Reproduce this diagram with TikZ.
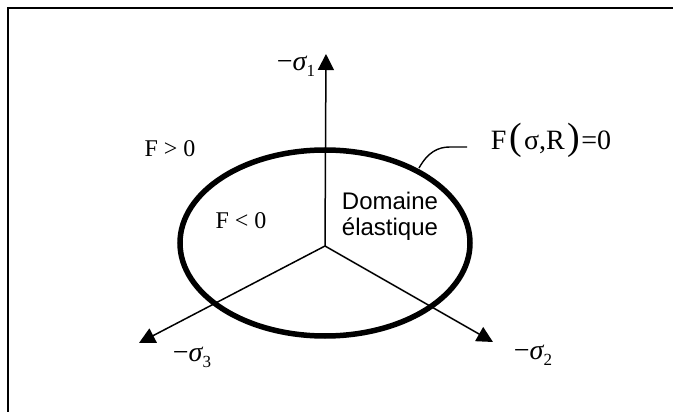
\documentclass[tikz,border=0pt]{standalone}
\usepackage{fontspec}
\setmainfont{Liberation Serif}
\newfontfamily\arialfont{Liberation Sans}
\usetikzlibrary{arrows.meta,shapes.geometric}
\newcommand{\msig}[1]{−{\itshape σ}\raisebox{-0.22em}{\fontsize{17}{17}\selectfont #1}}
\newcommand{\bigpar}[1]{{\fontsize{38}{38}\selectfont #1}}
\tikzset{
  axis/.style={line width=1.5pt,-{Triangle[length=16pt,width=16pt]}},
  lbl/.style={inner sep=0pt,font=\fontsize{24}{26}\selectfont},
  siglbl/.style={inner sep=0pt,font=\fontsize{28}{30}\selectfont},
  frameline/.style={line width=2pt},
}
\begin{document}
\begin{tikzpicture}[x=1pt,y=-1pt]
\useasboundingbox (0,0) rectangle (673,412);
\draw[frameline] (8.3,430) -- (8.3,7.7) -- (690,7.7);
\coordinate (O) at (325,246);
\coordinate (t1) at (326,54);
\coordinate (t3) at (139,343);
\coordinate (t2) at (493,342);
\draw[axis] (O) -- (t1);
\draw[axis] (O) -- (t3);
\draw[axis] (O) -- (t2);
\node[draw,line width=5.5pt,ellipse,minimum width=290pt,minimum height=186pt,inner sep=0pt] (ell) at (325,243) {};
\coordinate (c1) at (419,168);
\coordinate (c2) at (467,147);
\draw[line width=1.4pt] (c1) .. controls (428,152) and (438,147) .. (450,147) -- (c2);
\node[siglbl] (s1) at (296,66) {\msig{1}};
\node[siglbl] (s3) at (192,357) {\msig{3}};
\node[siglbl] (s2) at (533,355) {\msig{2}};
\node[lbl] (fpos) at (170,149) {F > 0};
\node[lbl] (fneg) at (241,221) {F < 0};
\node[lbl,align=center,font=\arialfont\fontsize{24}{26}\selectfont] (dom) at (390,216) {Domaine\\élastique};
\node[lbl,font=\fontsize{28}{30}\selectfont] (feq) at (551,140) {F\hspace{3pt}\bigpar{(}\hspace{2pt}σ,R\hspace{3pt}\bigpar{)}\hspace{1pt}=0};
\end{tikzpicture}
\end{document}
